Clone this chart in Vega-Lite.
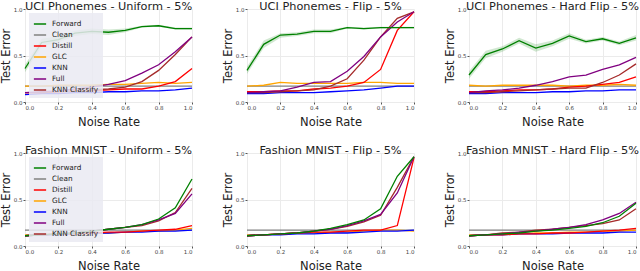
{
"$schema":"https://vega.github.io/schema/vega-lite/v6.json",
"padding":{"left":0,"top":0,"right":3,"bottom":0},
"background":"white",
"config":{
 "font":"DejaVu Sans",
 "view":{"stroke":null},
 "title":{"fontSize":11.3,"fontWeight":"normal","color":"#222","offset":-5},
 "axis":{"gridColor":"#ebebeb","domain":false,"tickColor":"#555","tickSize":2,"labelFontSize":5.5,"labelColor":"#444","titleFontSize":11.5,"titleFontWeight":"normal","titleColor":"#222","values":[0,0.2,0.4,0.6,0.8,1],"format":".1f","labelPadding":1,"titlePadding":2},
 "axisX":{"titlePadding":6},
 "legend":{"orient":"top-left","offset":4,"fillColor":"rgba(234,234,242,0.85)","padding":4,"labelFontSize":7.3,"labelColor":"#222","symbolType":"stroke","symbolStrokeWidth":1.5,"symbolSize":150,"rowPadding":-1.5,"labelOffset":5,"title":null,"labelLimit":80}
},
"datasets":{"d":[
{"p":1,"x":0.0,"Forward":0.36,"Clean":0.17,"Distill":0.10,"GLC":0.17,"KNN":0.08,"Full":0.10,"KNN Classify":0.10,"lo":0.32,"hi":0.40},
{"p":1,"x":0.1,"Forward":0.64,"Clean":0.17,"Distill":0.10,"GLC":0.17,"KNN":0.09,"Full":0.11,"KNN Classify":0.10,"lo":0.60,"hi":0.68},
{"p":1,"x":0.2,"Forward":0.67,"Clean":0.17,"Distill":0.11,"GLC":0.18,"KNN":0.09,"Full":0.12,"KNN Classify":0.11,"lo":0.64,"hi":0.71},
{"p":1,"x":0.3,"Forward":0.74,"Clean":0.17,"Distill":0.12,"GLC":0.18,"KNN":0.10,"Full":0.14,"KNN Classify":0.12,"lo":0.71,"hi":0.77},
{"p":1,"x":0.4,"Forward":0.76,"Clean":0.17,"Distill":0.12,"GLC":0.18,"KNN":0.10,"Full":0.16,"KNN Classify":0.13,"lo":0.73,"hi":0.79},
{"p":1,"x":0.5,"Forward":0.75,"Clean":0.17,"Distill":0.13,"GLC":0.19,"KNN":0.11,"Full":0.19,"KNN Classify":0.14,"lo":0.72,"hi":0.78},
{"p":1,"x":0.6,"Forward":0.77,"Clean":0.17,"Distill":0.14,"GLC":0.19,"KNN":0.11,"Full":0.23,"KNN Classify":0.16,"lo":0.75,"hi":0.79},
{"p":1,"x":0.7,"Forward":0.81,"Clean":0.17,"Distill":0.14,"GLC":0.20,"KNN":0.12,"Full":0.31,"KNN Classify":0.22,"lo":0.80,"hi":0.82},
{"p":1,"x":0.8,"Forward":0.82,"Clean":0.17,"Distill":0.17,"GLC":0.21,"KNN":0.12,"Full":0.40,"KNN Classify":0.34,"lo":0.81,"hi":0.83},
{"p":1,"x":0.9,"Forward":0.79,"Clean":0.17,"Distill":0.22,"GLC":0.20,"KNN":0.13,"Full":0.54,"KNN Classify":0.51,"lo":0.78,"hi":0.80},
{"p":1,"x":1.0,"Forward":0.79,"Clean":0.17,"Distill":0.36,"GLC":0.21,"KNN":0.15,"Full":0.70,"KNN Classify":0.70,"lo":0.78,"hi":0.80},
{"p":2,"x":0.0,"Forward":0.34,"Clean":0.17,"Distill":0.11,"GLC":0.17,"KNN":0.09,"Full":0.10,"KNN Classify":0.10,"lo":0.30,"hi":0.38},
{"p":2,"x":0.1,"Forward":0.62,"Clean":0.17,"Distill":0.11,"GLC":0.18,"KNN":0.09,"Full":0.11,"KNN Classify":0.10,"lo":0.58,"hi":0.66},
{"p":2,"x":0.2,"Forward":0.72,"Clean":0.17,"Distill":0.12,"GLC":0.21,"KNN":0.10,"Full":0.12,"KNN Classify":0.11,"lo":0.69,"hi":0.74},
{"p":2,"x":0.3,"Forward":0.73,"Clean":0.17,"Distill":0.12,"GLC":0.20,"KNN":0.10,"Full":0.16,"KNN Classify":0.12,"lo":0.71,"hi":0.75},
{"p":2,"x":0.4,"Forward":0.76,"Clean":0.17,"Distill":0.14,"GLC":0.20,"KNN":0.10,"Full":0.21,"KNN Classify":0.13,"lo":0.74,"hi":0.78},
{"p":2,"x":0.5,"Forward":0.76,"Clean":0.17,"Distill":0.15,"GLC":0.20,"KNN":0.11,"Full":0.22,"KNN Classify":0.17,"lo":0.74,"hi":0.78},
{"p":2,"x":0.6,"Forward":0.80,"Clean":0.17,"Distill":0.17,"GLC":0.20,"KNN":0.12,"Full":0.33,"KNN Classify":0.25,"lo":0.79,"hi":0.81},
{"p":2,"x":0.7,"Forward":0.79,"Clean":0.17,"Distill":0.21,"GLC":0.21,"KNN":0.13,"Full":0.49,"KNN Classify":0.45,"lo":0.78,"hi":0.80},
{"p":2,"x":0.8,"Forward":0.80,"Clean":0.17,"Distill":0.35,"GLC":0.21,"KNN":0.15,"Full":0.70,"KNN Classify":0.70,"lo":0.79,"hi":0.81},
{"p":2,"x":0.9,"Forward":0.80,"Clean":0.17,"Distill":0.77,"GLC":0.20,"KNN":0.17,"Full":0.86,"KNN Classify":0.90,"lo":0.79,"hi":0.81},
{"p":2,"x":1.0,"Forward":0.80,"Clean":0.17,"Distill":0.97,"GLC":0.20,"KNN":0.17,"Full":0.97,"KNN Classify":0.97,"lo":0.79,"hi":0.81},
{"p":3,"x":0.0,"Forward":0.29,"Clean":0.17,"Distill":0.11,"GLC":0.18,"KNN":0.09,"Full":0.10,"KNN Classify":0.10,"lo":0.25,"hi":0.33},
{"p":3,"x":0.1,"Forward":0.51,"Clean":0.17,"Distill":0.11,"GLC":0.17,"KNN":0.09,"Full":0.12,"KNN Classify":0.10,"lo":0.47,"hi":0.55},
{"p":3,"x":0.2,"Forward":0.57,"Clean":0.17,"Distill":0.12,"GLC":0.18,"KNN":0.10,"Full":0.13,"KNN Classify":0.11,"lo":0.54,"hi":0.60},
{"p":3,"x":0.3,"Forward":0.66,"Clean":0.17,"Distill":0.13,"GLC":0.18,"KNN":0.10,"Full":0.15,"KNN Classify":0.12,"lo":0.63,"hi":0.69},
{"p":3,"x":0.4,"Forward":0.58,"Clean":0.17,"Distill":0.13,"GLC":0.18,"KNN":0.10,"Full":0.18,"KNN Classify":0.13,"lo":0.54,"hi":0.62},
{"p":3,"x":0.5,"Forward":0.63,"Clean":0.17,"Distill":0.14,"GLC":0.18,"KNN":0.11,"Full":0.22,"KNN Classify":0.14,"lo":0.60,"hi":0.66},
{"p":3,"x":0.6,"Forward":0.71,"Clean":0.17,"Distill":0.16,"GLC":0.17,"KNN":0.11,"Full":0.27,"KNN Classify":0.15,"lo":0.68,"hi":0.74},
{"p":3,"x":0.7,"Forward":0.65,"Clean":0.17,"Distill":0.17,"GLC":0.18,"KNN":0.12,"Full":0.29,"KNN Classify":0.15,"lo":0.63,"hi":0.67},
{"p":3,"x":0.8,"Forward":0.68,"Clean":0.17,"Distill":0.19,"GLC":0.18,"KNN":0.12,"Full":0.35,"KNN Classify":0.21,"lo":0.66,"hi":0.70},
{"p":3,"x":0.9,"Forward":0.63,"Clean":0.17,"Distill":0.21,"GLC":0.19,"KNN":0.13,"Full":0.40,"KNN Classify":0.29,"lo":0.61,"hi":0.65},
{"p":3,"x":1.0,"Forward":0.69,"Clean":0.17,"Distill":0.27,"GLC":0.18,"KNN":0.13,"Full":0.48,"KNN Classify":0.41,"lo":0.66,"hi":0.72},
{"p":4,"x":0.0,"Forward":0.11,"Clean":0.17,"Distill":0.11,"GLC":0.12,"KNN":0.11,"Full":0.11,"KNN Classify":0.11},
{"p":4,"x":0.1,"Forward":0.12,"Clean":0.17,"Distill":0.12,"GLC":0.12,"KNN":0.12,"Full":0.12,"KNN Classify":0.12},
{"p":4,"x":0.2,"Forward":0.13,"Clean":0.17,"Distill":0.13,"GLC":0.13,"KNN":0.12,"Full":0.13,"KNN Classify":0.13},
{"p":4,"x":0.3,"Forward":0.14,"Clean":0.17,"Distill":0.13,"GLC":0.13,"KNN":0.13,"Full":0.14,"KNN Classify":0.14},
{"p":4,"x":0.4,"Forward":0.16,"Clean":0.17,"Distill":0.14,"GLC":0.14,"KNN":0.14,"Full":0.16,"KNN Classify":0.16},
{"p":4,"x":0.5,"Forward":0.18,"Clean":0.17,"Distill":0.15,"GLC":0.14,"KNN":0.14,"Full":0.18,"KNN Classify":0.18},
{"p":4,"x":0.6,"Forward":0.20,"Clean":0.17,"Distill":0.15,"GLC":0.15,"KNN":0.15,"Full":0.20,"KNN Classify":0.20},
{"p":4,"x":0.7,"Forward":0.23,"Clean":0.17,"Distill":0.16,"GLC":0.16,"KNN":0.15,"Full":0.23,"KNN Classify":0.22},
{"p":4,"x":0.8,"Forward":0.29,"Clean":0.17,"Distill":0.17,"GLC":0.16,"KNN":0.16,"Full":0.28,"KNN Classify":0.27},
{"p":4,"x":0.9,"Forward":0.41,"Clean":0.17,"Distill":0.18,"GLC":0.17,"KNN":0.16,"Full":0.35,"KNN Classify":0.36},
{"p":4,"x":1.0,"Forward":0.72,"Clean":0.17,"Distill":0.22,"GLC":0.19,"KNN":0.17,"Full":0.56,"KNN Classify":0.62},
{"p":5,"x":0.0,"Forward":0.11,"Clean":0.17,"Distill":0.11,"GLC":0.12,"KNN":0.11,"Full":0.11,"KNN Classify":0.11},
{"p":5,"x":0.1,"Forward":0.12,"Clean":0.17,"Distill":0.12,"GLC":0.12,"KNN":0.12,"Full":0.12,"KNN Classify":0.12},
{"p":5,"x":0.2,"Forward":0.13,"Clean":0.17,"Distill":0.13,"GLC":0.13,"KNN":0.12,"Full":0.13,"KNN Classify":0.13},
{"p":5,"x":0.3,"Forward":0.14,"Clean":0.17,"Distill":0.14,"GLC":0.14,"KNN":0.13,"Full":0.14,"KNN Classify":0.14},
{"p":5,"x":0.4,"Forward":0.16,"Clean":0.17,"Distill":0.15,"GLC":0.14,"KNN":0.13,"Full":0.16,"KNN Classify":0.16},
{"p":5,"x":0.5,"Forward":0.19,"Clean":0.17,"Distill":0.15,"GLC":0.15,"KNN":0.14,"Full":0.18,"KNN Classify":0.18},
{"p":5,"x":0.6,"Forward":0.23,"Clean":0.17,"Distill":0.16,"GLC":0.15,"KNN":0.14,"Full":0.22,"KNN Classify":0.21},
{"p":5,"x":0.7,"Forward":0.28,"Clean":0.17,"Distill":0.17,"GLC":0.16,"KNN":0.15,"Full":0.27,"KNN Classify":0.26},
{"p":5,"x":0.8,"Forward":0.40,"Clean":0.17,"Distill":0.17,"GLC":0.17,"KNN":0.16,"Full":0.34,"KNN Classify":0.33},
{"p":5,"x":0.9,"Forward":0.75,"Clean":0.17,"Distill":0.22,"GLC":0.17,"KNN":0.16,"Full":0.57,"KNN Classify":0.63},
{"p":5,"x":1.0,"Forward":0.96,"Clean":0.17,"Distill":0.95,"GLC":0.16,"KNN":0.17,"Full":0.96,"KNN Classify":0.96},
{"p":6,"x":0.0,"Forward":0.11,"Clean":0.17,"Distill":0.11,"GLC":0.12,"KNN":0.11,"Full":0.11,"KNN Classify":0.11},
{"p":6,"x":0.1,"Forward":0.12,"Clean":0.17,"Distill":0.12,"GLC":0.12,"KNN":0.12,"Full":0.12,"KNN Classify":0.12},
{"p":6,"x":0.2,"Forward":0.13,"Clean":0.17,"Distill":0.12,"GLC":0.13,"KNN":0.12,"Full":0.13,"KNN Classify":0.14},
{"p":6,"x":0.3,"Forward":0.14,"Clean":0.17,"Distill":0.13,"GLC":0.13,"KNN":0.13,"Full":0.15,"KNN Classify":0.15},
{"p":6,"x":0.4,"Forward":0.16,"Clean":0.17,"Distill":0.13,"GLC":0.14,"KNN":0.13,"Full":0.16,"KNN Classify":0.17},
{"p":6,"x":0.5,"Forward":0.17,"Clean":0.17,"Distill":0.14,"GLC":0.14,"KNN":0.13,"Full":0.18,"KNN Classify":0.18},
{"p":6,"x":0.6,"Forward":0.19,"Clean":0.17,"Distill":0.14,"GLC":0.15,"KNN":0.14,"Full":0.20,"KNN Classify":0.20},
{"p":6,"x":0.7,"Forward":0.21,"Clean":0.17,"Distill":0.15,"GLC":0.15,"KNN":0.14,"Full":0.23,"KNN Classify":0.22},
{"p":6,"x":0.8,"Forward":0.25,"Clean":0.17,"Distill":0.16,"GLC":0.16,"KNN":0.14,"Full":0.28,"KNN Classify":0.24},
{"p":6,"x":0.9,"Forward":0.32,"Clean":0.17,"Distill":0.17,"GLC":0.16,"KNN":0.15,"Full":0.35,"KNN Classify":0.28},
{"p":6,"x":1.0,"Forward":0.46,"Clean":0.17,"Distill":0.19,"GLC":0.17,"KNN":0.15,"Full":0.47,"KNN Classify":0.40}
]},
"data":{"name":"d"},
"resolve":{"scale":{"color":"independent"},"legend":{"color":"independent"}},
"spacing":16,
"vconcat":[
{"hconcat":[
 {"width":167,"height":93,"title":"UCI Phonemes - Uniform - 5%","transform":[{"filter":"datum.p==1"}],
  "layer":[
   {"mark":{"type":"area","color":"#008000","opacity":0.18},"encoding":{"x":{"field":"x","type":"quantitative","scale":{"domain":[0,1]},"title":"Noise Rate"},"y":{"field":"lo","type":"quantitative","scale":{"domain":[0,1]},"title":"Test Error"},"y2":{"field":"hi"}}},
   {"transform":[{"fold":["Clean","GLC","KNN","Distill","KNN Classify","Full","Forward"],"as":["m","v"]}],
    "mark":{"type":"line","strokeWidth":1.3},
    "encoding":{"x":{"field":"x","type":"quantitative","scale":{"domain":[0,1]},"title":"Noise Rate"},"y":{"field":"v","type":"quantitative","scale":{"domain":[0,1]},"title":"Test Error"},
     "color":{"field":"m","type":"nominal","scale":{"domain":["Forward","Clean","Distill","GLC","KNN","Full","KNN Classify"],"range":["#008000","#808080","#ff0000","#ffa500","#0000ff","#800080","#a52a2a"]},"legend":{}}}}
  ]},
 {"width":167,"height":93,"title":"UCI Phonemes - Flip - 5%","transform":[{"filter":"datum.p==2"}],
  "layer":[
   {"mark":{"type":"area","color":"#008000","opacity":0.18},"encoding":{"x":{"field":"x","type":"quantitative","scale":{"domain":[0,1]},"title":"Noise Rate"},"y":{"field":"lo","type":"quantitative","scale":{"domain":[0,1]},"title":"Test Error"},"y2":{"field":"hi"}}},
   {"transform":[{"fold":["Clean","GLC","KNN","Distill","KNN Classify","Full","Forward"],"as":["m","v"]}],
    "mark":{"type":"line","strokeWidth":1.3},
    "encoding":{"x":{"field":"x","type":"quantitative","scale":{"domain":[0,1]},"title":"Noise Rate"},"y":{"field":"v","type":"quantitative","scale":{"domain":[0,1]},"title":"Test Error"},
     "color":{"field":"m","type":"nominal","scale":{"domain":["Forward","Clean","Distill","GLC","KNN","Full","KNN Classify"],"range":["#008000","#808080","#ff0000","#ffa500","#0000ff","#800080","#a52a2a"]},"legend":null}}}
  ]},
 {"width":167,"height":93,"title":"UCI Phonemes - Hard Flip - 5%","transform":[{"filter":"datum.p==3"}],
  "layer":[
   {"mark":{"type":"area","color":"#008000","opacity":0.18},"encoding":{"x":{"field":"x","type":"quantitative","scale":{"domain":[0,1]},"title":"Noise Rate"},"y":{"field":"lo","type":"quantitative","scale":{"domain":[0,1]},"title":"Test Error"},"y2":{"field":"hi"}}},
   {"transform":[{"fold":["Clean","GLC","KNN","Distill","KNN Classify","Full","Forward"],"as":["m","v"]}],
    "mark":{"type":"line","strokeWidth":1.3},
    "encoding":{"x":{"field":"x","type":"quantitative","scale":{"domain":[0,1]},"title":"Noise Rate"},"y":{"field":"v","type":"quantitative","scale":{"domain":[0,1]},"title":"Test Error"},
     "color":{"field":"m","type":"nominal","scale":{"domain":["Forward","Clean","Distill","GLC","KNN","Full","KNN Classify"],"range":["#008000","#808080","#ff0000","#ffa500","#0000ff","#800080","#a52a2a"]},"legend":null}}}
  ]}
 ],"spacing":27,"resolve":{"scale":{"color":"independent"},"legend":{"color":"independent"}}},
{"hconcat":[
 {"width":167,"height":93,"title":"Fashion MNIST - Uniform - 5%","transform":[{"filter":"datum.p==4"},{"fold":["Clean","GLC","KNN","Distill","KNN Classify","Full","Forward"],"as":["m","v"]}],
  "mark":{"type":"line","strokeWidth":1.3},
  "encoding":{"x":{"field":"x","type":"quantitative","scale":{"domain":[0,1]},"title":"Noise Rate"},"y":{"field":"v","type":"quantitative","scale":{"domain":[0,1]},"title":"Test Error"},
   "color":{"field":"m","type":"nominal","scale":{"domain":["Forward","Clean","Distill","GLC","KNN","Full","KNN Classify"],"range":["#008000","#808080","#ff0000","#ffa500","#0000ff","#800080","#a52a2a"]},"legend":{}}}},
 {"width":167,"height":93,"title":"Fashion MNIST - Flip - 5%","transform":[{"filter":"datum.p==5"},{"fold":["Clean","GLC","KNN","Distill","KNN Classify","Full","Forward"],"as":["m","v"]}],
  "mark":{"type":"line","strokeWidth":1.3},
  "encoding":{"x":{"field":"x","type":"quantitative","scale":{"domain":[0,1]},"title":"Noise Rate"},"y":{"field":"v","type":"quantitative","scale":{"domain":[0,1]},"title":"Test Error"},
   "color":{"field":"m","type":"nominal","scale":{"domain":["Forward","Clean","Distill","GLC","KNN","Full","KNN Classify"],"range":["#008000","#808080","#ff0000","#ffa500","#0000ff","#800080","#a52a2a"]},"legend":null}}},
 {"width":167,"height":93,"title":"Fashion MNIST - Hard Flip - 5%","transform":[{"filter":"datum.p==6"},{"fold":["Clean","GLC","KNN","Distill","KNN Classify","Full","Forward"],"as":["m","v"]}],
  "mark":{"type":"line","strokeWidth":1.3},
  "encoding":{"x":{"field":"x","type":"quantitative","scale":{"domain":[0,1]},"title":"Noise Rate"},"y":{"field":"v","type":"quantitative","scale":{"domain":[0,1]},"title":"Test Error"},
   "color":{"field":"m","type":"nominal","scale":{"domain":["Forward","Clean","Distill","GLC","KNN","Full","KNN Classify"],"range":["#008000","#808080","#ff0000","#ffa500","#0000ff","#800080","#a52a2a"]},"legend":null}}}
 ],"spacing":27,"resolve":{"scale":{"color":"independent"},"legend":{"color":"independent"}}}
]
}
